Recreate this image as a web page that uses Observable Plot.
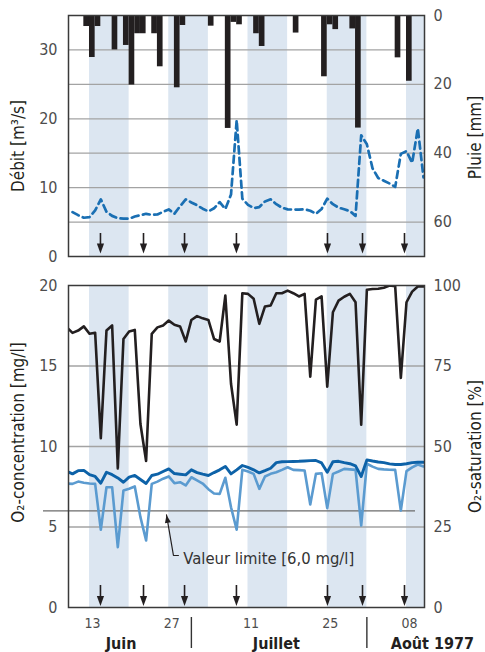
<!DOCTYPE html>
<html><head><meta charset="utf-8">
<script src="https://cdn.jsdelivr.net/npm/d3@7"></script>
<script src="https://cdn.jsdelivr.net/npm/@observablehq/plot@0.6"></script>
<style>
body{margin:0;background:#fff;}
#chart{width:485px;height:652px;}
#chart svg{display:block;}
</style></head><body><div id="chart"></div>
<script>
const FONT = '"Liberation Sans Narrow","DejaVu Sans Condensed","Arial Narrow",sans-serif';

// daily series, 1977-06-09 .. 1977-08-11
const firstDay = "1977-06-09", lastDay = "1977-08-11";
// Débit [m3/s]
const debit = [null,6.45,6.0,5.63,5.72,6.7,8.3,6.5,5.9,5.57,5.5,5.5,5.8,6.0,6.2,6.05,6.1,6.5,6.84,6.2,7.3,8.3,7.85,7.45,6.94,6.55,7.0,7.9,6.9,9.0,19.8,8.4,7.5,7.03,7.18,8.0,8.3,7.6,7.1,6.84,6.82,6.82,6.84,6.65,6.2,6.9,8.4,7.6,7.1,6.85,6.6,5.9,17.6,16.3,12.8,11.4,11.0,10.6,10.1,14.9,15.3,13.6,18.6,11.5];
// O2 concentration [mg/l], upper (dark blue) and lower (light blue)
const o2Upper = [8.45,8.30,8.5,8.52,8.25,8.14,7.72,8.40,8.25,8.05,7.78,8.10,8.20,7.95,7.70,8.20,8.28,8.45,8.61,8.32,8.28,8.24,8.55,8.38,8.28,8.20,8.38,8.55,8.76,8.30,8.55,8.82,8.70,8.55,8.36,8.5,8.65,9.0,9.05,9.06,9.07,9.08,9.1,9.12,9.13,8.98,8.40,9.05,9.08,9.0,8.93,8.8,8.14,9.17,9.1,9.04,9.0,8.92,8.88,8.88,8.93,9.0,9.02,9.02];
const o2Lower = [7.7,7.68,7.82,7.75,7.7,7.68,4.83,7.47,7.47,3.75,7.27,7.38,7.52,5.61,4.16,7.68,7.82,8.0,8.14,7.72,7.78,7.58,8.09,7.9,7.7,7.35,7.08,7.06,8.06,6.23,4.83,8.55,8.45,8.30,7.37,8.14,8.3,8.40,8.55,8.71,8.55,8.53,8.51,6.40,8.30,8.34,6.17,8.30,8.45,8.61,8.58,8.55,5.09,8.93,8.75,8.61,8.58,8.56,8.55,6.02,8.47,8.7,8.88,8.76];
// O2 saturation [%]
const o2Sat = [87.0,85.3,86.0,87.3,85.0,85.3,52.6,86.0,87.6,43.2,83.4,85.7,86.2,57.0,45.5,85.0,87.0,87.6,89.1,87.8,87.3,82.6,89.3,90.5,89.8,89.3,83.4,82.6,96.9,69.5,56.8,97.6,97.4,95.9,88.1,93.5,93.8,97.6,97.6,98.4,97.6,96.6,97.4,71.7,95.6,96.6,68.6,91.7,95.3,96.5,97.4,94.8,56.8,98.7,98.9,99.0,99.3,100.0,99.8,71.3,94.8,98.1,99.7,99.7];
// Pluie [mm] per day
const rainDates = ["1977-06-12","1977-06-13","1977-06-14","1977-06-17","1977-06-19","1977-06-20","1977-06-21","1977-06-22","1977-06-24","1977-06-25","1977-06-28","1977-06-29","1977-07-04","1977-07-07","1977-07-08","1977-07-09","1977-07-12","1977-07-13","1977-07-19","1977-07-24","1977-07-25","1977-07-26","1977-07-29","1977-07-30","1977-08-06","1977-08-08"];
const rainMm = [3.2,12.2,3.2,10.0,8.7,20.2,5.3,5.3,5.3,14.9,21.0,2.9,3.1,32.8,2.0,2.7,5.3,9.0,5.1,17.8,2.7,4.1,3.9,32.7,12.3,19.1];
// shaded weeks, event arrows, axis labels
const weekBands = ["1977-06-13","1977-06-27","1977-07-11","1977-07-25","1977-08-08"];
const eventTimes = ["1977-06-14T22:30","1977-06-22T13:00","1977-06-29T19:00","1977-07-08T23:00","1977-07-25T01:00","1977-07-31T05:30","1977-08-07T15:30"];
const dayTicks = ["1977-06-13","1977-06-27","1977-07-11","1977-07-25","1977-08-08"];
const months = ["Juin","Juillet","Août 1977"];
const monthCenters = ["1977-06-18T14:00","1977-07-16T00:00","1977-08-12T14:00"];
const monthBreaks = ["1977-07-01","1977-08-01"];
const limitValue = 6.0;
const limitLabel = "Valeur limite [6,0 mg/l]";
const limitNote = {t:"1977-06-29T14:00", v:3.05};
const limitLeader = [{t:"1977-06-28T17:00", v:3.23},{t:"1977-06-27T20:00", v:3.23},{t:"1977-06-26T14:30", v:5.75}];

const U = s => new Date(s.length === 10 ? s + "T00:00Z" : s + "Z");
const xDomain = [U("1977-06-09T07:00"), U("1977-08-11T04:20")];
const days = d3.utcDay.range(U(firstDay), d3.utcDay.offset(U(lastDay), 1));
const rows = days.map((d, i) => ({date: d, q: debit[i], hi: o2Upper[i], lo: o2Lower[i], sat: o2Sat[i]}));
const rain = rainDates.map((d, i) => ({start: U(d), end: d3.utcDay.offset(U(d), 1), mm: rainMm[i]}));
const bands = weekBands.map(d => ({start: U(d), end: d3.utcDay.offset(U(d), 7)}));
const events = eventTimes.map(U);

const INK = "#231f20", GRID = "#a3a3a3", BAND = "#dce6f1", TICK = "#4d4d4d";
const arrowDown = {draw(ctx) { ctx.moveTo(0, 0); ctx.lineTo(-3.6, -10); ctx.lineTo(3.6, -10); ctx.closePath(); }};
const arrowUp = {draw(ctx) { ctx.moveTo(0, 0); ctx.lineTo(-3, 8); ctx.lineTo(3, 8); ctx.closePath(); }};

const common = {width: 485, marginLeft: 68, marginRight: 61,
  style: {fontFamily: FONT, background: "#fff", overflow: "visible"}};

// ---- top panel: Débit / Pluie (Pluie = 70 - 2*y)
const topPlot = Plot.plot({
  ...common, height: 270, marginTop: 15, marginBottom: 14,
  x: {type: "utc", domain: xDomain, axis: null},
  y: {domain: [0, 35], axis: null},
  marks: [
    Plot.rect(bands, {x1: "start", x2: "end", fill: BAND, clip: true}),
    Plot.ruleY([5, 10, 15, 20, 25, 30], {stroke: GRID, strokeWidth: 1.3}),
    Plot.rect(rain, {x1: "start", x2: "end", y1: () => 35, y2: d => 35 - d.mm / 2, fill: INK, clip: true}),
    Plot.line(rows, {x: "date", y: "q", stroke: "#1a6fb3", strokeWidth: 2.7, strokeDasharray: "7,4.5", strokeLinecap: "round", clip: true}),
    Plot.ruleX(events, {x: d => d, insetTop: 218, insetBottom: 9, stroke: INK, strokeWidth: 1.6}),
    Plot.dot(events, {x: d => d, frameAnchor: "bottom", dy: -3, symbol: arrowDown, r: 4, fill: INK, stroke: "none"}),
    Plot.frame({stroke: "#3a3a3a", strokeWidth: 1.5}),
    Plot.axisY({anchor: "left", ticks: [0, 10, 20, 30], tickSize: 0, tickPadding: 11, fontSize: 16, color: TICK, label: null}),
    Plot.axisY({anchor: "right", ticks: [35, 25, 15, 5], tickFormat: d => 70 - 2 * d, tickSize: 0, tickPadding: 9, fontSize: 16, color: TICK, label: null}),
    Plot.text(["Débit [m³/s]"], {frameAnchor: "left", dx: -49.5, dy: 10, rotate: -90, textAnchor: "middle", lineAnchor: "middle", fontSize: 17, fill: INK}),
    Plot.text(["Pluie [mm]"], {frameAnchor: "right", dx: 51, dy: 1.5, rotate: -90, textAnchor: "middle", lineAnchor: "middle", fontSize: 17, fill: INK})
  ]
});

// ---- bottom panel: O2 concentration / saturation (saturation = 5*y)
const botPlot = Plot.plot({
  ...common, height: 382, marginTop: 15, marginBottom: 45,
  x: {type: "utc", domain: xDomain, axis: null},
  y: {domain: [0, 20], axis: null},
  marks: [
    Plot.rect(bands, {x1: "start", x2: "end", fill: BAND, clip: true}),
    Plot.ruleY([5, 10, 15], {stroke: GRID, strokeWidth: 1.3}),
    Plot.ruleY([limitValue], {insetLeft: -25, insetRight: 9, stroke: "#6b6b6b", strokeWidth: 1.3}),
    Plot.line(rows, {x: "date", y: "lo", stroke: "#5b9bd0", strokeWidth: 2.6, strokeLinejoin: "round", clip: true}),
    Plot.line(rows, {x: "date", y: "hi", stroke: "#0d62a8", strokeWidth: 2.9, strokeLinejoin: "round", clip: true}),
    Plot.line(rows, {x: "date", y: d => d.sat / 5, stroke: INK, strokeWidth: 2.6, strokeLinejoin: "round", clip: true}),
    Plot.ruleX(events, {x: d => d, insetTop: 300, insetBottom: 8, stroke: INK, strokeWidth: 1.6}),
    Plot.dot(events, {x: d => d, frameAnchor: "bottom", dy: -1.5, symbol: arrowDown, r: 4, fill: INK, stroke: "none"}),
    Plot.line(limitLeader, {x: d => U(d.t), y: "v", stroke: INK, strokeWidth: 1.2}),
    Plot.dot([limitLeader[2]], {x: d => U(d.t), y: "v", symbol: arrowUp, r: 4, rotate: -10, fill: INK, stroke: "none"}),
    Plot.text([limitLabel], {x: () => U(limitNote.t), y: () => limitNote.v, textAnchor: "start", lineAnchor: "middle", fontSize: 16.5, fill: "#333"}),
    Plot.frame({stroke: "#3a3a3a", strokeWidth: 1.5}),
    Plot.axisY({anchor: "left", ticks: [0, 5, 10, 15, 20], tickSize: 0, tickPadding: 11, fontSize: 16, color: TICK, label: null}),
    Plot.axisY({anchor: "right", ticks: [0, 5, 10, 15, 20], tickFormat: d => d * 5, tickSize: 0, tickPadding: 9, fontSize: 16, color: TICK, label: null}),
    Plot.text(dayTicks, {x: U, frameAnchor: "bottom", dy: 16, dx: 3, text: d => d3.utcFormat("%d")(U(d)), textAnchor: "middle", lineAnchor: "middle", fontSize: 14, fill: TICK}),
    Plot.text(months, {x: (d, i) => U(monthCenters[i]), frameAnchor: "bottom", dy: 36, text: d => d, textAnchor: "middle", lineAnchor: "middle", fontSize: 16, fontWeight: "bold", fill: INK}),
    Plot.ruleX(monthBreaks, {x: U, insetTop: 332, insetBottom: -41, stroke: "#333", strokeWidth: 1.4}),
    Plot.text(["O₂-concentration [mg/l]"], {frameAnchor: "left", dx: -49.5, dy: -14, rotate: -90, textAnchor: "middle", lineAnchor: "middle", fontSize: 17, fill: INK}),
    Plot.text(["O₂-saturation [%]"], {frameAnchor: "right", dx: 51, dy: 0, rotate: -90, textAnchor: "middle", lineAnchor: "middle", fontSize: 17, fill: INK})
  ]
});

const root = document.getElementById("chart");
root.append(topPlot, botPlot);
</script></body></html>
